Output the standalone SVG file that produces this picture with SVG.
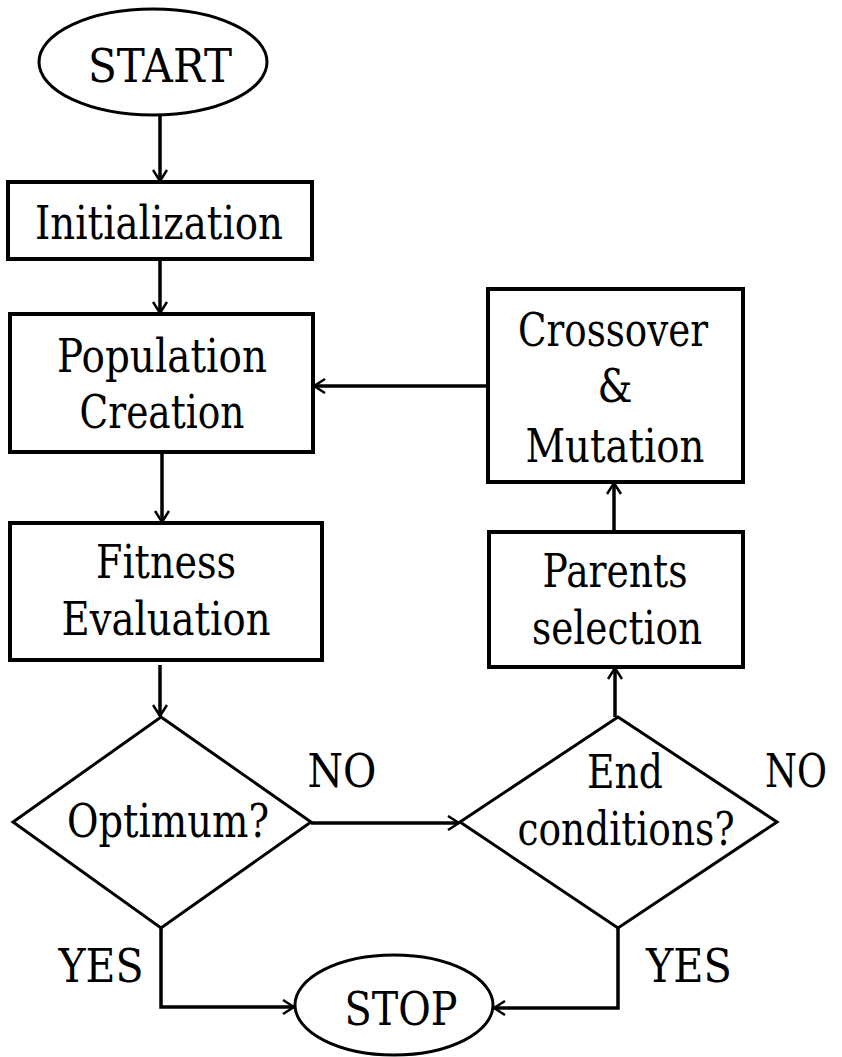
<svg xmlns="http://www.w3.org/2000/svg" width="842" height="1057" viewBox="0 0 842 1057">
<style>
text{font-family:'DejaVu Serif','Liberation Serif',serif;font-size:46px;fill:#000;text-anchor:middle}
.box{fill:#fff;stroke:#000;stroke-width:4}
.oval{fill:#fff;stroke:#000;stroke-width:3}
.dia{fill:#fff;stroke:#000;stroke-width:3;stroke-linejoin:miter}
.c{fill:none;stroke:#000;stroke-width:3.5}
</style>
<defs>
<marker id="ah" viewBox="0 0 13 16" refX="12" refY="8" markerWidth="13" markerHeight="16" markerUnits="userSpaceOnUse" orient="auto">
<path d="M1,1 L12,8 L1,15" fill="none" stroke="#000" stroke-width="2.5"/>
</marker>
</defs>
<rect width="842" height="1057" fill="#fff"/>
<g id="connectors">
<line class="c" x1="160" y1="115" x2="160" y2="181" marker-end="url(#ah)"/>
<line class="c" x1="160" y1="259" x2="160" y2="313" marker-end="url(#ah)"/>
<line class="c" x1="162" y1="452" x2="162" y2="522" marker-end="url(#ah)"/>
<line class="c" x1="160" y1="665" x2="160" y2="716" marker-end="url(#ah)"/>
<line class="c" x1="488" y1="386" x2="314" y2="386" marker-end="url(#ah)"/>
<line class="c" x1="614" y1="532" x2="614" y2="483" marker-end="url(#ah)"/>
<line class="c" x1="615" y1="717" x2="615" y2="668" marker-end="url(#ah)"/>
<line class="c" x1="311" y1="823" x2="459" y2="823" marker-end="url(#ah)"/>
<polyline class="c" points="161,928 161,1007 294,1007" marker-end="url(#ah)"/>
<polyline class="c" points="618,928 618,1008 494,1008" marker-end="url(#ah)"/>
</g>
<g id="start">
<ellipse class="oval" cx="153" cy="62" rx="114" ry="53"/>
<text x="160" y="82" textLength="144" lengthAdjust="spacingAndGlyphs">START</text>
</g>
<g id="initialization">
<rect class="box" x="8" y="182" width="304" height="77"/>
<text x="159" y="239" textLength="248" lengthAdjust="spacingAndGlyphs">Initialization</text>
</g>
<g id="population">
<rect class="box" x="10" y="314" width="303" height="138"/>
<text x="162" y="372" textLength="210" lengthAdjust="spacingAndGlyphs">Population</text>
<text x="162" y="428" textLength="165" lengthAdjust="spacingAndGlyphs">Creation</text>
</g>
<g id="fitness">
<rect class="box" x="10" y="523" width="312" height="137"/>
<text x="166" y="578" textLength="140" lengthAdjust="spacingAndGlyphs">Fitness</text>
<text x="166" y="635" textLength="209" lengthAdjust="spacingAndGlyphs">Evaluation</text>
</g>
<g id="crossover">
<rect class="box" x="488" y="289" width="255" height="193"/>
<text x="613" y="346" textLength="190" lengthAdjust="spacingAndGlyphs">Crossover</text>
<text x="615" y="402" textLength="35" lengthAdjust="spacingAndGlyphs">&amp;</text>
<text x="615" y="462" textLength="179" lengthAdjust="spacingAndGlyphs">Mutation</text>
</g>
<g id="parents">
<rect class="box" x="489" y="532" width="254" height="135"/>
<text x="615" y="587" textLength="145" lengthAdjust="spacingAndGlyphs">Parents</text>
<text x="617" y="644" textLength="170" lengthAdjust="spacingAndGlyphs">selection</text>
</g>
<g id="optimum">
<polygon class="dia" points="161,717 311,822 161,928 13,822"/>
<text x="168" y="837" textLength="202" lengthAdjust="spacingAndGlyphs">Optimum?</text>
</g>
<g id="endconditions">
<polygon class="dia" points="618,717 777,822 618,928 460,822"/>
<text x="625" y="788" textLength="76" lengthAdjust="spacingAndGlyphs">End</text>
<text x="626" y="845" textLength="217" lengthAdjust="spacingAndGlyphs">conditions?</text>
</g>
<g id="stop">
<ellipse class="oval" cx="394" cy="1005" rx="99" ry="50"/>
<text x="401" y="1025" textLength="113" lengthAdjust="spacingAndGlyphs">STOP</text>
</g>
<g id="labels">
<text x="342" y="787" textLength="69" lengthAdjust="spacingAndGlyphs">NO</text>
<text x="796" y="787" font-size="42" textLength="62" lengthAdjust="spacingAndGlyphs">NO</text>
<text x="101" y="982" textLength="85" lengthAdjust="spacingAndGlyphs">YES</text>
<text x="689" y="982" textLength="86" lengthAdjust="spacingAndGlyphs">YES</text>
</g>
</svg>
